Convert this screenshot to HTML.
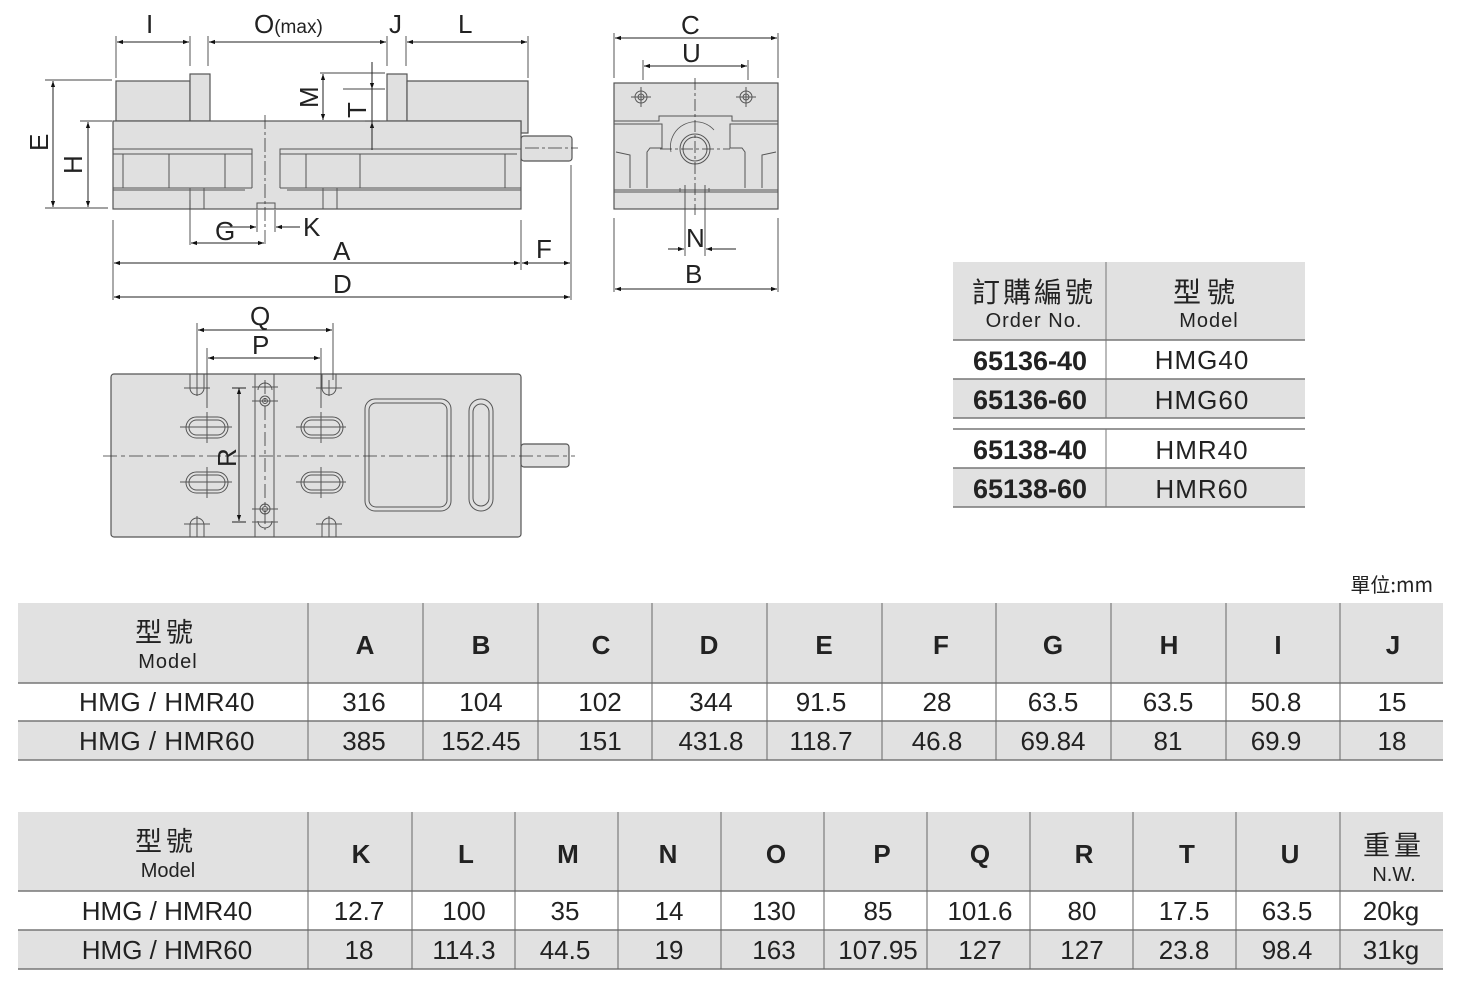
<!DOCTYPE html>
<html><head><meta charset="utf-8"><style>
html,body{margin:0;padding:0;background:#fff;}
svg{display:block;}
text{font-family:"Liberation Sans","Noto Sans CJK TC",sans-serif;fill:#222;}
.cj{font-family:"Noto Sans CJK TC","WenQuanYi Zen Hei",sans-serif;}
.b{font-weight:bold;}
</style></head><body>
<svg width="1459" height="990" viewBox="0 0 1459 990" xmlns="http://www.w3.org/2000/svg">
<defs>
<marker id="a" viewBox="0 0 10 10" refX="10" refY="5" markerWidth="14" markerHeight="6" orient="auto-start-reverse" markerUnits="userSpaceOnUse"><path d="M0,1.5 L10,5 L0,8.5z" fill="#111"/></marker>
</defs>

<!-- ============ SIDE VIEW ============ -->
<g stroke="#555" stroke-width="1.2" fill="#e0e0e0">
<rect x="116" y="81" width="74" height="40"/>
<rect x="190" y="74" width="20" height="47"/>
<rect x="387" y="74" width="20" height="47"/>
<path d="M407,81 H528 V133 H521 V121 H407z"/>
<rect x="521" y="136" width="51" height="25" rx="3"/>
<rect x="113" y="121" width="408" height="88"/>
</g>
<g stroke="#555" stroke-width="1" fill="none">
<path d="M113,149 H252 V188 M280,188 V149 H521"/>
<path d="M113,154 H252 M280,154 H517"/>
<path d="M123,154 V188 M169,154 V188 M225,154 V188 M306,154 V188 M360,154 V188 M505,154 V188"/>
<path d="M113,188 H252 M280,188 H521 M113,190 H245 M287,190 H521"/>
<path d="M190,188 V209 M204,188 V209 M323,188 V209 M337,188 V209"/>
<path d="M257,209 V203 H275 V209"/>
</g>
<g stroke="#333" stroke-width="0.8" fill="none" stroke-dasharray="14,3,3,3">
<line x1="265" y1="115" x2="265" y2="245"/>
<line x1="525" y1="148" x2="578" y2="148"/>
</g>
<!-- dims side -->
<g stroke="#444" stroke-width="0.9" fill="none">
<path d="M116,36 V78 M190,36 V66 M208,36 V66 M387,36 V66 M406,36 V66 M528,36 V78"/>
<path d="M45,80 H112 M80,121 H112 M45,208 H108"/>
<path d="M320,73 H385 M365,121 H380"/>
<path d="M190,200 V245 M113,220 V300 M521,220 V270 M571,165 V300 M257,210 V232 M275,210 V232"/>
<path d="M343,89 H385"/>
</g>
<g stroke="#222" stroke-width="1" fill="none" marker-start="url(#a)" marker-end="url(#a)">
<line x1="117" y1="42" x2="189" y2="42"/>
<line x1="209" y1="42" x2="386" y2="42"/>
<line x1="407" y1="42" x2="527" y2="42"/>
<line x1="53" y1="81" x2="53" y2="207"/>
<line x1="88" y1="122" x2="88" y2="207"/>
<line x1="323" y1="74" x2="323" y2="120"/>
<line x1="191" y1="243" x2="264" y2="243"/>
<line x1="114" y1="263" x2="520" y2="263"/>
<line x1="114" y1="297" x2="570" y2="297"/>
</g>
<g stroke="#222" stroke-width="1" fill="none">
<line x1="372" y1="62" x2="372" y2="89" marker-end="url(#a)"/>
<line x1="372" y1="150" x2="372" y2="122" marker-end="url(#a)"/>
<line x1="372" y1="89" x2="372" y2="150"/>
<line x1="218" y1="227" x2="256" y2="227" marker-end="url(#a)"/>
<line x1="300" y1="227" x2="276" y2="227" marker-end="url(#a)"/>
<line x1="522" y1="263" x2="570" y2="263" marker-start="url(#a)" marker-end="url(#a)"/>
</g>
<g font-size="26">
<text x="146" y="33">I</text>
<text x="254" y="33">O<tspan font-size="19">(max)</tspan></text>
<text x="389" y="33">J</text>
<text x="458" y="33">L</text>
<text x="333" y="260">A</text>
<text x="333" y="293">D</text>
<text x="536" y="258">F</text>
<text x="215" y="240">G</text>
<text x="303" y="236">K</text>
<text transform="translate(48,151) rotate(-90)">E</text>
<text transform="translate(82,174) rotate(-90)">H</text>
<text transform="translate(318,108) rotate(-90)">M</text>
<text transform="translate(366,118) rotate(-90)">T</text>
</g>

<!-- ============ FRONT VIEW ============ -->
<g stroke="#555" stroke-width="1.2" fill="#e0e0e0">
<rect x="614" y="83" width="164" height="126"/>
</g>
<g stroke="#555" stroke-width="1" fill="none">
<path d="M614,121 H659 V116 H732 V121 H778"/>
<path d="M614,124 H662 V148 H650 L647,152 V188 M778,124 H730 V148 H742 L745,152 V188"/>
<path d="M616,152 L630,155 V188 M776,152 L762,155 V188"/>
<path d="M614,190 H778 M614,192 H778"/>
<path d="M680,188 V192 H709 V188"/>
<circle cx="695" cy="149" r="15"/><circle cx="695" cy="149" r="12"/>
<path d="M671,152 A25,25 0 0 1 714,130" stroke-width="0.8"/>
<circle cx="641" cy="97" r="6"/><circle cx="641" cy="97" r="3"/>
<circle cx="746" cy="97" r="6"/><circle cx="746" cy="97" r="3"/>
<path d="M631,97 H651 M641,87 V107 M736,97 H756 M746,87 V107"/>
</g>
<g stroke="#333" stroke-width="0.8" stroke-dasharray="12,3,3,3" fill="none">
<line x1="695" y1="78" x2="695" y2="215"/><line x1="660" y1="149" x2="730" y2="149"/>
</g>
<g stroke="#444" stroke-width="0.9" fill="none">
<path d="M614,33 V78 M778,33 V78 M643,60 V80 M748,60 V80 M614,218 V292 M778,218 V292 M685,185 V256 M705,185 V256"/>
</g>
<g stroke="#222" stroke-width="1" fill="none">
<line x1="615" y1="38" x2="777" y2="38" marker-start="url(#a)" marker-end="url(#a)"/>
<line x1="644" y1="66" x2="747" y2="66" marker-start="url(#a)" marker-end="url(#a)"/>
<line x1="615" y1="289" x2="777" y2="289" marker-start="url(#a)" marker-end="url(#a)"/>
<line x1="668" y1="249" x2="684" y2="249" marker-end="url(#a)"/>
<line x1="736" y1="249" x2="706" y2="249" marker-end="url(#a)"/>
</g>
<g font-size="26">
<text x="681" y="34">C</text>
<text x="682" y="62">U</text>
<text x="686" y="247">N</text>
<text x="685" y="283">B</text>
</g>

<!-- ============ TOP VIEW ============ -->
<g stroke="#555" stroke-width="1.2" fill="#e0e0e0">
<rect x="111" y="374" width="410" height="163" rx="3"/>
<rect x="521" y="444" width="48" height="23" rx="3"/>
</g>
<g stroke="#555" stroke-width="1" fill="none">
<path d="M255,374 V537 M274,374 V537"/>
<rect x="365" y="399" width="86" height="112" rx="10"/>
<rect x="369" y="403" width="78" height="104" rx="7"/>
<rect x="469" y="399" width="24" height="112" rx="12"/>
<rect x="473" y="404" width="16" height="102" rx="8"/>
<rect x="186" y="417" width="42" height="21" rx="10.5"/><rect x="189" y="420" width="36" height="15" rx="7.5"/>
<rect x="186" y="472" width="42" height="21" rx="10.5"/><rect x="189" y="475" width="36" height="15" rx="7.5"/>
<rect x="301" y="417" width="42" height="21" rx="10.5"/><rect x="304" y="420" width="36" height="15" rx="7.5"/>
<rect x="301" y="472" width="42" height="21" rx="10.5"/><rect x="304" y="475" width="36" height="15" rx="7.5"/>
<path d="M190,374 V388 A7,7 0 0 0 204,388 V374 M322,374 V388 A7,7 0 0 0 336,388 V374"/>
<path d="M190,537 V525 A7,7 0 0 1 204,525 V537 M322,537 V525 A7,7 0 0 1 336,525 V537"/>
<path d="M258,390 A7,7 0 0 1 272,390 M258,521 A7,7 0 0 0 272,521"/>
<circle cx="265" cy="401" r="5"/><circle cx="265" cy="401" r="2.5"/>
<circle cx="265" cy="509" r="5"/><circle cx="265" cy="509" r="2.5"/>
<path d="M184,388 H210 M197,380 V396 M316,388 H342 M329,380 V396 M184,524 H210 M197,516 V537 M316,524 H342 M329,516 V537"/>
<path d="M180,427 H232 M207,412 V443 M296,427 H346 M321,412 V443 M180,482 H232 M207,467 V498 M296,482 H346 M321,467 V498"/>
<path d="M252,401 H278 M252,509 H278 M252,387 H278 M252,522 H278"/>
</g>
<g stroke="#333" stroke-width="0.8" stroke-dasharray="14,4,4,4" fill="none">
<line x1="103" y1="456" x2="575" y2="456"/>
<line x1="265" y1="380" x2="265" y2="530"/>
</g>
<g stroke="#444" stroke-width="0.9" fill="none">
<path d="M197,323 V380 M333,323 V380 M207,348 V408 M321,348 V408"/>
</g>
<g stroke="#222" stroke-width="1" fill="none" marker-start="url(#a)" marker-end="url(#a)">
<line x1="198" y1="330" x2="332" y2="330"/>
<line x1="208" y1="358" x2="320" y2="358"/>
<line x1="239" y1="388" x2="239" y2="521"/>
</g>
<path d="M232,388 H246 M232,522 H246" stroke="#222" stroke-width="1"/>
<g font-size="26">
<text x="250" y="325">Q</text>
<text x="252" y="354">P</text>
<text transform="translate(236,467) rotate(-90)">R</text>
</g>

<!-- ============ ORDER TABLE ============ -->
<rect x="953" y="262" width="352" height="78" fill="#e1e1e1"/>
<rect x="953" y="379" width="352" height="39" fill="#e1e1e1"/>
<rect x="953" y="468" width="352" height="39" fill="#e1e1e1"/>
<g stroke="#777" stroke-width="1.5">
<line x1="953" y1="340" x2="1305" y2="340"/>
<line x1="953" y1="379" x2="1305" y2="379"/>
<line x1="953" y1="418" x2="1305" y2="418"/>
<line x1="953" y1="429" x2="1305" y2="429"/>
<line x1="953" y1="468" x2="1305" y2="468"/>
<line x1="953" y1="507" x2="1305" y2="507"/>
<line x1="1106" y1="262" x2="1106" y2="418" stroke-width="1"/>
<line x1="1106" y1="429" x2="1106" y2="507" stroke-width="1"/>
</g>
<g text-anchor="middle">
<text class="cj" x="1034" y="302" font-size="28" letter-spacing="3">訂購編號</text>
<text x="1034" y="327" font-size="20" letter-spacing="1">Order No.</text>
<text class="cj" x="1207" y="302" font-size="28" letter-spacing="6">型號</text>
<text x="1209" y="327" font-size="20" letter-spacing="1">Model</text>
<g font-size="27" class="b">
<text x="1030" y="370">65136-40</text><text x="1030" y="409">65136-60</text>
<text x="1030" y="459">65138-40</text><text x="1030" y="498">65138-60</text>
</g>
<g font-size="26" letter-spacing="1">
<text x="1202" y="369">HMG40</text><text x="1202" y="409">HMG60</text>
<text x="1202" y="459">HMR40</text><text x="1202" y="498">HMR60</text>
</g>
</g>

<!-- ============ SPEC TABLE 1 ============ -->
<text class="cj" x="1433" y="592" font-size="20" text-anchor="end">單位:mm</text>
<rect x="18" y="603" width="1425" height="80" fill="#e1e1e1"/>
<rect x="18" y="721" width="1425" height="39" fill="#e1e1e1"/>
<g stroke="#777" stroke-width="1.5">
<line x1="18" y1="683" x2="1443" y2="683"/><line x1="18" y1="721" x2="1443" y2="721"/><line x1="18" y1="760" x2="1443" y2="760"/>
</g>
<g stroke="#666" stroke-width="1">
<path d="M308,603V760 M423,603V760 M538,603V760 M652,603V760 M767,603V760 M882,603V760 M996,603V760 M1111,603V760 M1226,603V760 M1340,603V760"/>
</g>
<g text-anchor="middle">
<text class="cj" x="166" y="642" font-size="27" letter-spacing="4">型號</text>
<text x="168" y="668" font-size="20" letter-spacing="1">Model</text>
<g class="b" font-size="26">
<text x="365" y="654">A</text><text x="481" y="654">B</text><text x="601" y="654">C</text><text x="709" y="654">D</text><text x="824" y="654">E</text><text x="941" y="654">F</text><text x="1053" y="654">G</text><text x="1169" y="654">H</text><text x="1278" y="654">I</text><text x="1393" y="654">J</text>
</g>
<g font-size="26">
<text x="167" y="711" letter-spacing="0.5">HMG / HMR40</text>
<text x="364" y="711">316</text><text x="481" y="711">104</text><text x="600" y="711">102</text><text x="711" y="711">344</text><text x="821" y="711">91.5</text><text x="937" y="711">28</text><text x="1053" y="711">63.5</text><text x="1168" y="711">63.5</text><text x="1276" y="711">50.8</text><text x="1392" y="711">15</text>
<text x="167" y="750" letter-spacing="0.5">HMG / HMR60</text>
<text x="364" y="750">385</text><text x="481" y="750">152.45</text><text x="600" y="750">151</text><text x="711" y="750">431.8</text><text x="821" y="750">118.7</text><text x="937" y="750">46.8</text><text x="1053" y="750">69.84</text><text x="1168" y="750">81</text><text x="1276" y="750">69.9</text><text x="1392" y="750">18</text>
</g>
</g>

<!-- ============ SPEC TABLE 2 ============ -->
<rect x="18" y="812" width="1425" height="79" fill="#e1e1e1"/>
<rect x="18" y="930" width="1425" height="39" fill="#e1e1e1"/>
<g stroke="#777" stroke-width="1.5">
<line x1="18" y1="891" x2="1443" y2="891"/><line x1="18" y1="930" x2="1443" y2="930"/><line x1="18" y1="969" x2="1443" y2="969"/>
</g>
<g stroke="#666" stroke-width="1">
<path d="M308,812V969 M412,812V969 M515,812V969 M618,812V969 M721,812V969 M824,812V969 M927,812V969 M1030,812V969 M1133,812V969 M1236,812V969 M1340,812V969"/>
</g>
<g text-anchor="middle">
<text class="cj" x="166" y="851" font-size="27" letter-spacing="4">型號</text>
<text x="168" y="877" font-size="20">Model</text>
<g class="b" font-size="26">
<text x="361" y="863">K</text><text x="466" y="863">L</text><text x="568" y="863">M</text><text x="668" y="863">N</text><text x="776" y="863">O</text><text x="882" y="863">P</text><text x="980" y="863">Q</text><text x="1084" y="863">R</text><text x="1187" y="863">T</text><text x="1290" y="863">U</text>
</g>
<text class="cj" x="1394" y="855" font-size="27" letter-spacing="4">重量</text>
<text x="1394" y="881" font-size="20">N.W.</text>
<g font-size="26">
<text x="167" y="920">HMG / HMR40</text>
<text x="359" y="920">12.7</text><text x="464" y="920">100</text><text x="565" y="920">35</text><text x="669" y="920">14</text><text x="774" y="920">130</text><text x="878" y="920">85</text><text x="980" y="920">101.6</text><text x="1082" y="920">80</text><text x="1184" y="920">17.5</text><text x="1287" y="920">63.5</text><text x="1391" y="920">20kg</text>
<text x="167" y="959">HMG / HMR60</text>
<text x="359" y="959">18</text><text x="464" y="959">114.3</text><text x="565" y="959">44.5</text><text x="669" y="959">19</text><text x="774" y="959">163</text><text x="878" y="959">107.95</text><text x="980" y="959">127</text><text x="1082" y="959">127</text><text x="1184" y="959">23.8</text><text x="1287" y="959">98.4</text><text x="1391" y="959">31kg</text>
</g>
</g>
</svg>
</body></html>
